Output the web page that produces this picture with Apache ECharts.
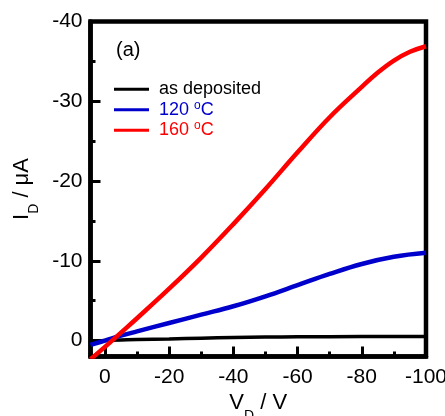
<!DOCTYPE html>
<html><head><meta charset="utf-8">
<script src="https://cdn.jsdelivr.net/npm/echarts@6/dist/echarts.min.js"></script>
<style>html,body{margin:0;padding:0;background:#fff}#c{width:445px;height:416px}</style>
</head><body><div id="c"></div>
<script>
// ---- data ----
const seriesNames = ['as deposited', '120 oC', '160 oC'];
const seriesColors = ['#000000', '#0000cc', '#ff0000'];
const vDep = [4.5, 0, -10, -20, -30, -40, -50, -60, -80, -100];
const iDep = [0.2, 0.0, -0.12, -0.2, -0.3, -0.38, -0.44, -0.47, -0.5, -0.52];
const v120 = [4.5, 0, -5, -10, -20, -30, -40, -50, -60, -70, -80, -90, -100];
const i120 = [0.55, 0.0, -0.62, -1.15, -2.2, -3.25, -4.3, -5.55, -6.95, -8.35, -9.6, -10.5, -11.0];
const v160 = [4.5, 0, -5, -10, -20, -30, -40, -50, -60, -70, -80, -85, -90, -95, -100];
const i160 = [2.35, 0.8, -1.0, -2.8, -6.5, -10.4, -14.6, -19.0, -23.6, -28.0, -31.8, -33.6, -35.1, -36.2, -36.9];
const xTickLabels = [0, -20, -40, -60, -80, -100];
const yTickLabels = [0, -10, -20, -30, -40];
const panelLabel = '(a)';
const xTitle = '{m|V}{s|D}{m| / V}';
const yTitle = '{m|I}{s|D}{m| / μA}';

const FONT = "'Liberation Sans', Arial, sans-serif";
const pair = (xs, ys) => xs.map((x, k) => [x, ys[k]]);
const titleRich = {
  m: { fontSize: 22, fontFamily: FONT, color: '#000', verticalAlign: 'top', lineHeight: 22 },
  s: { fontSize: 14, fontFamily: FONT, color: '#000', verticalAlign: 'bottom', lineHeight: 31 }
};
const baseX = {
  type: 'value', inverse: true, min: -100, max: 4.5,
  position: 'bottom', splitLine: { show: false }
};
const baseY = {
  type: 'value', inverse: true, min: -40, max: 2,
  position: 'left', splitLine: { show: false }
};

const chart = echarts.init(document.getElementById('c'), null, { renderer: 'canvas' });
chart.setOption({
  animation: false,
  backgroundColor: '#fff',
  title: {
    text: panelLabel, left: 116, top: 40, padding: 0,
    textStyle: { fontSize: 20, fontWeight: 'normal', fontFamily: FONT, color: '#000', lineHeight: 20 }
  },
  legend: {
    orient: 'vertical', left: 114, top: 79, itemGap: 0, padding: 0,
    itemWidth: 35, itemHeight: 3, icon: 'rect', selectedMode: false,
    formatter: n => n.replace(' oC', ' {sup|o}C'),
    textStyle: { fontSize: 18, fontFamily: FONT, color: '#000', lineHeight: 20.5, padding: [0, 0, 0, 5] },
    data: seriesNames.map((n, k) => ({
      name: n,
      textStyle: {
        color: seriesColors[k],
        rich: { sup: { fontSize: 12, fontFamily: FONT, color: seriesColors[k], verticalAlign: 'top', lineHeight: 14 } }
      }
    }))
  },
  grid: {
    left: 90.5, right: 19, top: 21.5, bottom: 59.5,
    show: true, borderColor: '#000', borderWidth: 4.5, backgroundColor: 'transparent',
    outerBoundsMode: 'none', containLabel: false
  },
  xAxis: [
    Object.assign({}, baseX, {
      interval: 20,
      name: xTitle, nameLocation: 'middle', nameGap: 35.5, nameMoveOverlap: false,
      nameTextStyle: { rich: titleRich, fontSize: 22, fontFamily: FONT, color: '#000' },
      axisLine: { show: true, onZero: false, lineStyle: { color: '#000', width: 4.5 } },
      axisTick: { show: true, inside: true, length: 10, lineStyle: { color: '#000', width: 3 } },
      axisLabel: {
        margin: 10, fontSize: 21, fontFamily: FONT, color: '#000',
        formatter: v => xTickLabels.indexOf(v) >= 0 ? String(v) : ''
      }
    }),
    Object.assign({}, baseX, {
      interval: 10,
      axisLine: { show: false, onZero: false },
      axisTick: { show: true, inside: true, length: 5, lineStyle: { color: '#000', width: 3 } },
      axisLabel: { show: false }
    })
  ],
  yAxis: [
    Object.assign({}, baseY, {
      interval: 10,
      name: yTitle, nameLocation: 'middle', nameGap: 49, nameRotate: 90, nameMoveOverlap: false,
      nameTextStyle: { rich: titleRich, fontSize: 22, fontFamily: FONT, color: '#000' },
      axisLine: { show: true, onZero: false, lineStyle: { color: '#000', width: 4.5 } },
      axisTick: { show: true, inside: true, length: 10, lineStyle: { color: '#000', width: 3 } },
      axisLabel: {
        margin: 8, fontSize: 21, fontFamily: FONT, color: '#000',
        formatter: v => yTickLabels.indexOf(v) >= 0 ? String(v) : ''
      }
    }),
    Object.assign({}, baseY, {
      interval: 5, offset: 0,
      axisLine: { show: false, onZero: false },
      axisTick: { show: true, inside: true, length: 5, lineStyle: { color: '#000', width: 3 } },
      axisLabel: { show: false }
    })
  ],
  series: [
    { name: seriesNames[0], type: 'line', data: pair(vDep, iDep), color: seriesColors[0], lineStyle: { width: 3.5 } },
    { name: seriesNames[1], type: 'line', data: pair(v120, i120), color: seriesColors[1], lineStyle: { width: 4.5 } },
    { name: seriesNames[2], type: 'line', data: pair(v160, i160), color: seriesColors[2], lineStyle: { width: 4.5 } }
  ].map(s => Object.assign(s, { showSymbol: false, symbol: 'none', smooth: 0.4, clip: true, xAxisIndex: 0, yAxisIndex: 0 }))
});
</script>
</body></html>
